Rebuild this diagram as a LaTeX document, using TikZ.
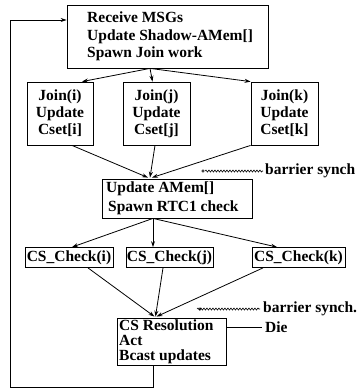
\documentclass[tikz,border=0pt]{standalone}
\usepackage{fontspec}
\setmainfont{Liberation Serif}
\usetikzlibrary{arrows.meta,decorations.pathmorphing}
\begin{document}
\begin{tikzpicture}[x=1pt,y=-1pt,
  font=\fontsize{15.5}{17}\selectfont\bfseries,
  box/.style={draw,line width=0.8pt,inner sep=0pt,minimum width=#1},
  arr/.style={line width=0.8pt,-{Stealth[length=6pt,width=4pt]}},
  wire/.style={line width=0.8pt},
  wave/.style={line width=0.6pt,decorate,decoration={snake,segment length=3pt,amplitude=1pt}},
  lbl/.style={anchor=west,inner sep=0pt}]
\useasboundingbox (0,0) rectangle (357,389);

% processing stages
\node[box=201pt,minimum height=63pt] (top) at (167.5,36.5) {};
\node[lbl,align=left,font=\fontsize{15.5}{17.5}\selectfont\bfseries] (toptext) at (87,36.5)
  {Receive MSGs\\Update Shadow-AMem[]\\Spawn Join work};
\node[box=66pt,minimum height=63pt,align=center] (ji) at (60,113.5) {Join(i)\\Update\\Cset[i]};
\node[box=67pt,minimum height=63pt,align=center] (jj) at (156.5,113.5) {Join(j)\\Update\\Cset[j]};
\node[box=67pt,minimum height=63pt,align=center] (jk) at (284.5,113.5) {Join(k)\\Update\\Cset[k]};
\node[box=150pt,minimum height=39pt] (ua) at (177,198.5) {};
\node[lbl,align=left,font=\fontsize{15.5}{19}\selectfont\bfseries] (uatext) at (106,198.5)
  {Update AMem[]\\\hspace*{2pt}Spawn RTC1 check};
\node[box=88pt,minimum height=20pt] (ci) at (69,257.5) {CS\_Check(i)};
\node[box=87pt,minimum height=20pt] (cj) at (169.5,257.5) {CS\_Check(j)};
\node[box=93pt,minimum height=20pt] (ck) at (298.5,257.5) {CS\_Check(k)};
\node[box=109pt,minimum height=47pt] (cr) at (171.5,341.5) {};
\node[lbl,align=left,font=\fontsize{15.5}{15}\selectfont\bfseries] (crtext) at (119,341.5)
  {CS Resolution\\Act\\Bcast updates};

% fan-out and fan-in
\draw[arr] ([xshift=-17.5pt]top.south) -- ([xshift=22pt]ji.north);
\draw[arr] ([xshift=-17.5pt]top.south) -- ([xshift=-4pt]jj.north);
\draw[arr] ([xshift=-17.5pt]top.south) -- (jk.north west);
\draw[arr] ([xshift=12pt]ji.south) -- ([xshift=-29pt,yshift=1pt]ua.north);
\draw[arr] ([xshift=-1.5pt]jj.south) -- ([xshift=-27pt,yshift=1pt]ua.north);
\draw[arr] (jk.south west) -- ([xshift=-25pt,yshift=1pt]ua.north);
\draw[arr] ([xshift=-24pt]ua.south) -- ([xshift=3pt]ci.north);
\draw[arr] ([xshift=-24pt]ua.south) -- ([xshift=-16.5pt]cj.north);
\draw[arr] ([xshift=-24pt]ua.south) -- ([xshift=-21.5pt]ck.north);
\draw[arr] ([xshift=19pt]ci.south) -- ([xshift=-17pt,yshift=1pt]cr.north);
\draw[arr] ([xshift=-6.5pt]cj.south) -- ([xshift=-16pt,yshift=1pt]cr.north);
\draw[arr] ([xshift=-35.5pt]ck.south) -- ([xshift=-15pt,yshift=1pt]cr.north);

% feedback loop
\coordinate (loop) at (10,387);
\draw[arr] ([xshift=-18.5pt]cr.south) |- (loop) |- ([yshift=16.5pt]top.west);

% barrier synchronisation marks
\coordinate (b1) at (205,171);
\coordinate (b1e) at (263,171);
\draw[line width=0.5pt] (b1) ++(-2,0) circle (1.3);
\draw[wave] (b1) -- (b1e);
\node[lbl] (b1t) at (265,171) {barrier synch};
\coordinate (b2) at (197,309);
\coordinate (b2e) at (260,309);
\draw[line width=0.5pt] (b2) ++(3,0) circle (1.3);
\draw[wave] (b2) -- (b2e);
\node[lbl] (b2t) at (263,309) {barrier synch.};

% termination
\node[lbl] (die) at (265,327.5) {Die};
\draw[wire] ([yshift=14pt]cr.east) -- ([xshift=-3pt]die.west);
\end{tikzpicture}
\end{document}
